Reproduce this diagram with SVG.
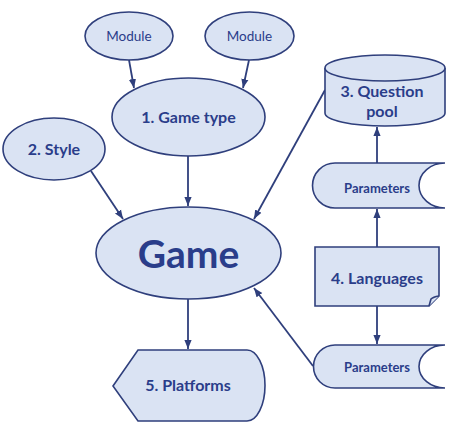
<svg xmlns="http://www.w3.org/2000/svg" width="454" height="427" viewBox="0 0 454 427">
<defs>
<style>
.s{fill:#dae3f3;stroke:#2f3f7c;stroke-width:1.6}
.t{font-family:Lato,"Open Sans","Noto Sans",sans-serif;font-weight:bold;fill:#2a3d8a;text-anchor:middle}
.r{font-family:Lato,"Open Sans","Noto Sans",sans-serif;fill:#2a3d8a;text-anchor:middle}
.c{stroke:#2f3f7c;stroke-width:1.8;fill:none;marker-end:url(#ah)}
</style>
<marker id="ah" viewBox="0 0 10 10" refX="10" refY="5" markerWidth="5" markerHeight="5" orient="auto" markerUnits="strokeWidth">
<path d="M0,1 L10,5 L0,9 z" fill="#2f3f7c"/>
</marker>
</defs>
<rect width="454" height="427" fill="#ffffff"/>
<g id="connectors">
<line class="c" x1="129" y1="60" x2="134" y2="88"/>
<line class="c" x1="249" y1="60" x2="243" y2="88"/>
<line class="c" x1="188" y1="156" x2="188" y2="206"/>
<line class="c" x1="91" y1="171" x2="123" y2="219"/>
<line class="c" x1="325" y1="90" x2="254" y2="219"/>
<line class="c" x1="313" y1="366" x2="254" y2="288"/>
<line class="c" x1="188" y1="299" x2="188" y2="349"/>
<line class="c" x1="377" y1="163" x2="377" y2="127"/>
<line class="c" x1="377" y1="247" x2="377" y2="209"/>
<line class="c" x1="377" y1="306" x2="377" y2="344"/>
</g>
<g id="module1">
<ellipse class="s" cx="129" cy="36" rx="44" ry="24"/>
<text class="r" x="129" y="41" font-size="13.5">Module</text>
</g>
<g id="module2">
<ellipse class="s" cx="249.5" cy="36" rx="44.5" ry="24"/>
<text class="r" x="249.5" y="41" font-size="13.5">Module</text>
</g>
<g id="gametype">
<ellipse class="s" cx="188.5" cy="117" rx="76.5" ry="39"/>
<text class="t" x="188.5" y="123" font-size="16">1. Game type</text>
</g>
<g id="style">
<ellipse class="s" cx="54" cy="149" rx="51" ry="31"/>
<text class="t" x="54" y="155" font-size="16">2. Style</text>
</g>
<g id="game">
<ellipse class="s" cx="188.5" cy="253" rx="92.5" ry="46"/>
<text class="t" x="188.5" y="268" font-size="39">Game</text>
</g>
<g id="questionpool">
<path class="s" d="M325,68 A60,13 0 0 1 445,68 L445,113 A60,13 0 0 1 325,113 Z"/>
<path class="s" fill="none" d="M325,68 A60,13 0 0 0 445,68"/>
<text class="t" x="382" y="97" font-size="16">3. Question</text>
<text class="t" x="382" y="117" font-size="16">pool</text>
</g>
<g id="params1">
<path class="s" d="M335,163 L445,163 A26,22.5 0 0 0 445,208 L335,208 A22.5,22.5 0 0 1 335,163 Z"/>
<text class="t" x="377" y="193" font-size="13">Parameters</text>
</g>
<g id="languages">
<path class="s" d="M315,247 L439,247 L439,296 L429,306 L315,306 Z"/>
<path class="s" d="M429,306 L431,299 Q433,297 439,296"/>
<text class="t" x="377" y="284" font-size="16">4. Languages</text>
</g>
<g id="params2">
<path class="s" d="M335,345 L445,345 A26,21.5 0 0 0 445,388 L335,388 A21.5,21.5 0 0 1 335,345 Z"/>
<text class="t" x="377" y="372" font-size="13">Parameters</text>
</g>
<g id="platforms">
<path class="s" d="M113,386 L138,350 L247,350 A18,35.5 0 0 1 247,421 L138,421 Z"/>
<text class="t" x="188" y="391" font-size="16">5. Platforms</text>
</g>
</svg>
